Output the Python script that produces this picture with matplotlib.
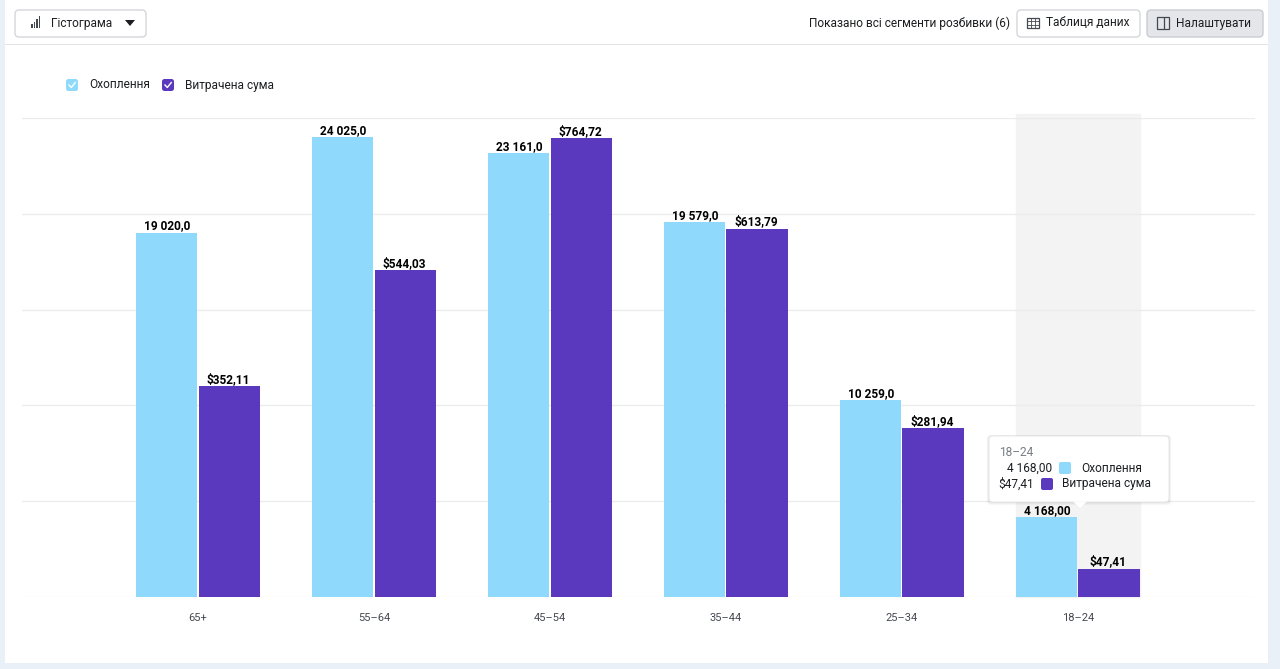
import matplotlib.pyplot as plt
from matplotlib.patches import FancyBboxPatch, Rectangle, Polygon
import numpy as np

plt.rcParams['font.family'] = ['Roboto', 'DejaVu Sans']

# Data
age_groups = ['65+', '55–64', '45–54', '35–44', '25–34', '18–24']
reach = [19020.0, 24025.0, 23161.0, 19579.0, 10259.0, 4168.0]
spend = [352.11, 544.03, 764.72, 613.79, 281.94, 47.41]
hovered = 5  # 18–24 is hovered in the screenshot

reach_color = '#8ed9fc'
spend_color = '#5b39be'
ui_fs = 8.6

W, H = 1280, 669
fig = plt.figure(figsize=(W / 100, H / 100), dpi=100)
fig.patch.set_facecolor('#e9f0f8')


def fx(x):
    return x / W


def fy(y):
    return 1 - y / H


def box(x0, y0, x1, y1, fc, ec='none', r=3, lw=1, z=1):
    p = FancyBboxPatch((fx(x0), fy(y1)), fx(x1 - x0), (y1 - y0) / H,
                       boxstyle=f'round,pad=0,rounding_size={r / W}',
                       transform=fig.transFigure, fc=fc, ec=ec, lw=lw,
                       zorder=z, mutation_aspect=W / H)
    fig.patches.append(p)
    return p


def rect(x0, y0, x1, y1, fc, ec='none', lw=1, z=2):
    p = Rectangle((fx(x0), fy(y1)), fx(x1 - x0), (y1 - y0) / H,
                  transform=fig.transFigure, fc=fc, ec=ec, lw=lw, zorder=z)
    fig.patches.append(p)


def fmt_num(v, dec):
    return f'{v:,.{dec}f}'.replace(',', ' ').replace('.', ',')


# card background
rect(5, 0, 1268, 663, '#ffffff', z=-5)
# toolbar separator
rect(5, 44, 1268, 45, '#e2e4e8', z=1)

# "Гістограма" dropdown
box(15, 10, 146, 37, '#ffffff', ec='#d3d6db', r=4)
for i, hgt in enumerate([4, 6, 9, 12]):
    rect(31 + i * 2.6, 28 - hgt, 32.6 + i * 2.6, 28, '#444950', z=3)
fig.text(fx(51), fy(23), 'Гістограма', fontsize=ui_fs, color='#1c1e21', va='center')
fig.patches.append(Polygon([(fx(125), fy(20)), (fx(135), fy(20)), (fx(130), fy(26))],
                           closed=True, transform=fig.transFigure, fc='#1c1e21', zorder=3))

# right toolbar
fig.text(fx(1010), fy(23), 'Показано всі сегменти розбивки (6)', fontsize=ui_fs,
         color='#1c1e21', va='center', ha='right')
box(1017, 10, 1140, 37, '#ffffff', ec='#d3d6db', r=4)
rect(1027, 18, 1039, 28, 'none', ec='#444950', lw=0.9, z=3)
for yy in (21.3, 24.6):
    rect(1027, yy, 1039, yy + 0.01, 'none', ec='#444950', lw=0.6, z=3)
for xx in (1031, 1035):
    rect(xx, 18, xx + 0.01, 28, 'none', ec='#444950', lw=0.6, z=3)
fig.text(fx(1046), fy(23), 'Таблиця даних', fontsize=ui_fs, color='#1c1e21', va='center')
box(1147, 10, 1263, 37, '#e4e6ea', ec='#c9ccd1', r=4)
rect(1157, 17, 1169, 29, 'none', ec='#444950', lw=0.9, z=3)
rect(1164, 17, 1164.01, 29, 'none', ec='#444950', lw=0.9, z=3)
fig.text(fx(1176), fy(23), 'Налаштувати', fontsize=ui_fs, color='#1c1e21', va='center')

# legend
for x0, col, lab in [(66, reach_color, 'Охоплення'), (162, spend_color, 'Витрачена сума')]:
    box(x0, 79, x0 + 12, 91, col, r=2.5, z=3)
    fig.lines.append(plt.Line2D([fx(x0 + 3), fx(x0 + 5.3), fx(x0 + 9.3)],
                                [fy(85), fy(87.5), fy(82.5)], transform=fig.transFigure,
                                color='white', lw=1.0, zorder=4))
    fig.text(fx(x0 + 23), fy(85), lab, fontsize=ui_fs, color='#1c1e21', va='center')

# main axes
ax = fig.add_axes([fx(22), fy(597), fx(1255 - 22), (597 - 118) / H])
ax.set_zorder(2)
ax.set_facecolor('none')
ax2 = ax.twinx()
ax2.set_zorder(3)
ax2.set_facecolor('none')

x = np.arange(len(age_groups))
bw = 0.347
ax.axvspan(x[hovered] - bw - 0.003, x[hovered] + bw + 0.003, ymin=0, ymax=1.009,
           color='#f3f3f3', zorder=0, clip_on=False)
ax.bar(x - bw / 2 - 0.003, reach, width=bw, color=reach_color, zorder=3)
ax2.bar(x + bw / 2 + 0.003, spend, width=bw, color=spend_color, zorder=3)

ax.set_xlim(-1.0, 6.006)
ax.set_ylim(0, 25000)
ax2.set_ylim(0, 798)
ax.set_yticks(np.arange(0, 25001, 5000))
ax.grid(axis='y', color='#ebebeb', lw=0.9, zorder=1)
ax.set_axisbelow(True)
ax.set_xticks(x)
ax.set_xticklabels(age_groups, fontsize=8.0, color='#444950')
ax.tick_params(axis='x', length=0, pad=11.5)
ax.tick_params(axis='y', length=0, labelleft=False)
ax2.set_yticks([])
for a in (ax, ax2):
    for s in a.spines.values():
        s.set_visible(False)

for i, (r, s) in enumerate(zip(reach, spend)):
    dec = 2 if i == hovered else 1
    ax.annotate(fmt_num(r, dec), (x[i] - bw / 2, r), xytext=(0, 0), textcoords='offset points',
                ha='center', va='bottom', fontsize=8.6, fontweight='bold', color='#000000', zorder=5)
    ax2.annotate('$' + fmt_num(s, 2), (x[i] + bw / 2, s), xytext=(0, 0), textcoords='offset points',
                 ha='center', va='bottom', fontsize=8.6, fontweight='bold', color='#000000', zorder=5)

# tooltip for hovered group
for k in range(4, 0, -1):
    box(989 - k * 0.6, 436 - k * 0.3, 1169 + k * 0.6, 502 + k * 0.8, (0, 0, 0, 0.025), r=4, z=6)
box(989, 436, 1169, 502, '#ffffff', ec='#e4e4e4', r=4, lw=0.6, z=7)
fig.patches.append(Polygon([(fx(1073), fy(501.5)), (fx(1087), fy(501.5)), (fx(1080), fy(508))],
                           closed=True, transform=fig.transFigure, fc='#ffffff', ec='none', zorder=8))
fig.text(fx(999), fy(453), age_groups[hovered], fontsize=ui_fs, color='#7a7d82', va='center', zorder=9)
fig.text(fx(1052), fy(468), fmt_num(reach[hovered], 2), fontsize=ui_fs, color='#1c1e21',
         va='center', ha='right', zorder=9)
fig.text(fx(1034), fy(484), '$' + fmt_num(spend[hovered], 2), fontsize=ui_fs, color='#1c1e21',
         va='center', ha='right', zorder=9)
box(1059, 462, 1071, 474, reach_color, r=2, z=9)
box(1041, 478, 1053, 490, spend_color, r=2, z=9)
fig.text(fx(1081), fy(468), 'Охоплення', fontsize=ui_fs, color='#1c1e21', va='center', zorder=9)
fig.text(fx(1062), fy(484), 'Витрачена сума', fontsize=ui_fs, color='#1c1e21', va='center', zorder=9)

fig.savefig('out.png', dpi=100)
